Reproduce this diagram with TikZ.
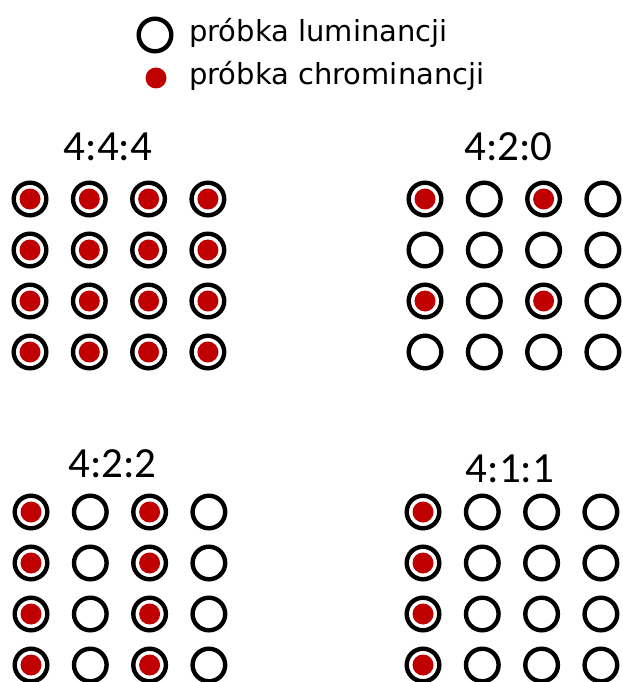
\documentclass[tikz,border=0pt]{standalone}
\usepackage{fontspec}
\setmainfont{DejaVu Sans}
\newfontfamily\titlefont{Carlito}
\usetikzlibrary{positioning}
\definecolor{chroma}{HTML}{C00000}
\tikzset{luma/.style={circle,draw=black,line width=4.4pt,minimum size=32.6pt,inner sep=0pt},
  chromadot/.style={circle,fill=chroma,minimum size=21pt,inner sep=0pt},
  ratio/.style={font=\titlefont\fontsize{43}{43}\selectfont,inner sep=0pt},
  legend/.style={font=\fontsize{29}{31}\selectfont,anchor=base west,inner sep=0pt}}

\begin{document}
\begin{tikzpicture}[x=1pt,y=-1pt]
\useasboundingbox (0,0) rectangle (623,682);
% legend
\node[luma] (keyluma) at (155,35) {};
\node[chromadot] (keychroma) at (156,78) {};
\node[legend] (keylumatxt) at (189,42) {próbka luminancji};
\node[legend] (keychromatxt) at (189,85) {próbka chrominancji};
% sample grids
\foreach \g/\gx/\gy in {a/30/199,b/425/199,c/31/512,d/423/512}{
  \foreach \r in {0,...,3}{\foreach \c in {0,...,3}{
    \node[luma] (\g-\r-\c) at (\gx+59.3*\c,\gy+51*\r) {};}}}
\node[ratio] (ta) at (108,146.5) {4:4:4};
\node[ratio] (tb) at (508.5,146.5) {4:2:0};
\node[ratio] (tc) at (112.5,463.5) {4:2:2};
\node[ratio] (td) at (510,469) {4:1:1};
% chroma samples
\foreach \r in {0,...,3}{\foreach \c in {0,...,3}{
  \node[chromadot] (a-dot-\r-\c) at (a-\r-\c) {};}}
\foreach \r in {0,2}{\foreach \c in {0,2}{
  \node[chromadot] (b-dot-\r-\c) at (b-\r-\c) {};}}
\foreach \r in {0,...,3}{\foreach \c in {0,2}{
  \node[chromadot] (c-dot-\r-\c) at (c-\r-\c) {};}}
\foreach \r in {0,...,3}{
  \node[chromadot] (d-dot-\r-0) at (d-\r-0) {};}
\end{tikzpicture}
\end{document}
